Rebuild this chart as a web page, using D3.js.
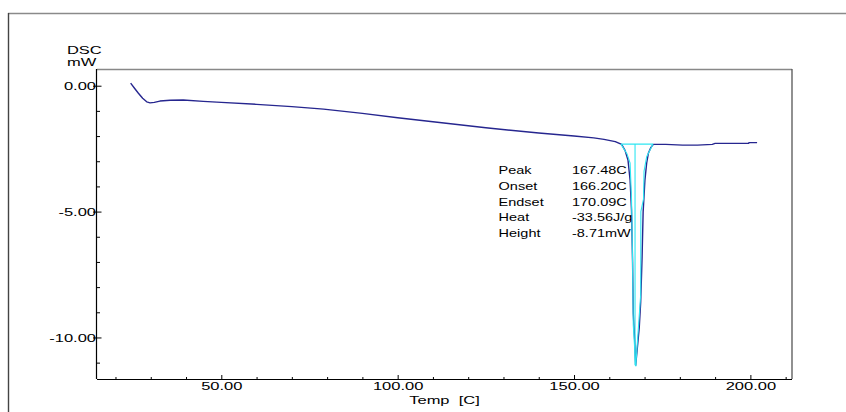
<!DOCTYPE html>
<html>
<head>
<meta charset="utf-8">
<script src="https://cdn.jsdelivr.net/npm/d3@7"></script>
<style>
  html, body { margin: 0; padding: 0; background: #fff; }
  svg { display: block; font-family: "Liberation Sans", Arial, sans-serif; }
</style>
</head>
<body>
<svg id="chart" width="846" height="412"></svg>
<script>
// ---- data ----
const temps = [24.3, 25.5, 26.5, 27.7, 28.85, 29.8, 31.0, 32.6, 35.5, 39.2, 44.9, 50, 60, 70, 79, 90, 100, 110, 125, 140, 150, 155.6, 158.5, 161.7, 163.5, 164.46, 165.3, 165.9, 166.3, 166.6, 166.8, 167.2, 167.48, 167.9, 168.5, 168.9, 169.3, 169.6, 170.1, 170.6, 171.1, 171.8, 172.5, 176, 180.8, 185, 189.2, 190.0, 199.5, 199.6, 201.9];
const dsc   = [0.10, -0.12, -0.30, -0.50, -0.64, -0.68, -0.66, -0.61, -0.58, -0.57, -0.62, -0.66, -0.74, -0.83, -0.93, -1.10, -1.27, -1.43, -1.67, -1.88, -2.00, -2.07, -2.13, -2.22, -2.33, -2.57, -2.95, -3.75, -4.94, -7.0, -9.04, -10.1, -11.1, -10.5, -9.6, -8.6, -6.8, -5.0, -3.75, -3.07, -2.67, -2.45, -2.33, -2.33, -2.36, -2.36, -2.33, -2.29, -2.29, -2.26, -2.26];

// analysis (cyan) construction lines
const baseT = [163.3, 172.4];
const baseV = [-2.32, -2.32];
const leftT = [163.3, 165.0, 165.9, 166.3, 166.6, 166.8, 167.5];
const leftV = [-2.32, -2.70, -3.07, -4.5, -7.0, -9.5, -11.14];
const rightT = [172.4, 170.6, 169.85, 169.7, 168.95, 168.9, 167.5];
const rightV = [-2.32, -2.82, -3.4, -4.5, -5.0, -8.3, -11.14];
const peakLineT = [167.3, 167.3];
const peakLineV = [-2.32, -11.1];

const xMajor = [50, 100, 150, 200];
const xMinor = [20, 30, 40, 60, 70, 80, 90, 110, 120, 130, 140, 160, 170, 180, 190, 210];
const yMajor = [0, -5, -10];
const yMinor = [-1, -2, -3, -4, -6, -7, -8, -9, -11];

const annLabels = ["Peak", "Onset", "Endset", "Heat", "Height"];
const annValues = ["167.48C", "166.20C", "170.09C", "-33.56J/g", "-8.71mW"];

// ---- drawing ----
const svg = d3.select("#chart");
const L = 97, R = 792, T = 69, B = 379;
const SX = 1.5; // horizontal text stretch of the reference
const fmt = d => d.toFixed(2); // plain hyphen minus, as in the reference

const x = d3.scaleLinear().domain([14.76, 211.8]).range([L, R]);
const y = d3.scaleLinear().domain([-11.65, 0.664]).range([B, T]);

// outer frame
svg.append("line").attr("x1", 8).attr("x2", 846).attr("y1", 13.5).attr("y2", 13.5)
  .attr("stroke", "#8a8a8a").attr("stroke-width", 1.3);
svg.append("line").attr("x1", 8.5).attr("x2", 8.5).attr("y1", 13).attr("y2", 412)
  .attr("stroke", "#444").attr("stroke-width", 1.4);

// plot frame top/right
svg.append("line").attr("x1", L).attr("x2", R).attr("y1", T + 0.5).attr("y2", T + 0.5)
  .attr("stroke", "#888").attr("stroke-width", 1.4);
svg.append("line").attr("x1", R).attr("x2", R).attr("y1", T).attr("y2", B)
  .attr("stroke", "#555").attr("stroke-width", 1.3);

// x axis major
const gx = svg.append("g").attr("transform", `translate(0,${B})`)
  .call(d3.axisBottom(x).tickValues(xMajor).tickSizeInner(-4).tickSizeOuter(0)
    .tickPadding(2.7).tickFormat(fmt));
gx.select(".domain").attr("stroke", "#000").attr("stroke-width", 1.2)
  .attr("d", `M${L},0.5H${R}`);
gx.selectAll(".tick line").attr("stroke", "#000");
gx.selectAll(".tick text").attr("font-size", 11).attr("fill", "#000")
  .attr("font-family", "'Liberation Sans', Arial, sans-serif")
  .attr("transform", `scale(${SX},1)`);

// x axis minor
const gxm = svg.append("g").attr("transform", `translate(0,${B})`)
  .call(d3.axisBottom(x).tickValues(xMinor).tickSizeInner(-2).tickSizeOuter(0).tickFormat(""));
gxm.select(".domain").remove();
gxm.selectAll(".tick line").attr("stroke", "#000");

// y axis major (outside part with labels)
const gy = svg.append("g").attr("transform", `translate(${L},0)`)
  .call(d3.axisLeft(y).tickValues(yMajor).tickSizeInner(4).tickSizeOuter(0)
    .tickPadding(0).tickFormat(fmt));
gy.select(".domain").attr("stroke", "#000").attr("stroke-width", 1.2)
  .attr("d", `M-0.5,${T}V${B}`);
gy.selectAll(".tick line").attr("stroke", "#000");
gy.selectAll(".tick text").attr("font-size", 11).attr("fill", "#000")
  .attr("font-family", "'Liberation Sans', Arial, sans-serif")
  .attr("x", -1 / SX).attr("dy", "0.34em")
  .attr("transform", `scale(${SX},1)`);

// y axis major (inside part)
const gyi = svg.append("g").attr("transform", `translate(${L},0)`)
  .call(d3.axisLeft(y).tickValues(yMajor).tickSizeInner(-4.5).tickSizeOuter(0).tickFormat(""));
gyi.select(".domain").remove();
gyi.selectAll(".tick line").attr("stroke", "#000");

// y axis minor
const gym = svg.append("g").attr("transform", `translate(${L},0)`)
  .call(d3.axisLeft(y).tickValues(yMinor).tickSizeInner(-3).tickSizeOuter(0).tickFormat(""));
gym.select(".domain").remove();
gym.selectAll(".tick line").attr("stroke", "#000");

// axis titles
function stretchedText(tx, ty, str, size, anchor) {
  svg.append("text").attr("transform", `translate(${tx},${ty}) scale(${SX},1)`)
    .attr("text-anchor", anchor || "start").attr("font-size", size).attr("fill", "#000")
    .text(str);
}
stretchedText(66.9, 54, "DSC", 11);
stretchedText(66.9, 66, "mW", 11);
stretchedText(444.5, 403.5, "Temp\u00a0 [C]", 11, "middle");

// main curve
const line = d3.line().x(d => x(d[0])).y(d => y(d[1]));
svg.append("path").datum(d3.zip(temps, dsc)).attr("d", line)
  .attr("fill", "none").attr("stroke", "#26268f").attr("stroke-width", 1.4)
  .attr("stroke-linejoin", "round");

// cyan analysis lines
const cyan = "#2ee6f2";
[[baseT, baseV], [leftT, leftV], [rightT, rightV], [peakLineT, peakLineV]].forEach(([a, b]) => {
  svg.append("path").datum(d3.zip(a, b)).attr("d", line)
    .attr("fill", "none").attr("stroke", cyan).attr("stroke-width", 1.1);
});

// annotation block
annLabels.forEach((lab, i) => {
  const by = 174 + i * 15.8;
  svg.append("text").attr("transform", `translate(498.6,${by}) scale(1.45,1)`)
    .attr("font-size", 10).attr("fill", "#000").text(lab);
  svg.append("text").attr("transform", `translate(572,${by}) scale(1.45,1)`)
    .attr("font-size", 10).attr("fill", "#000").text(annValues[i]);
});
</script>
</body>
</html>
